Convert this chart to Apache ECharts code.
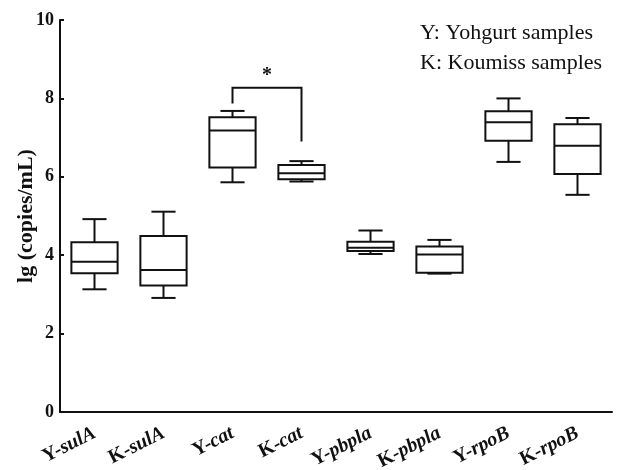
<!DOCTYPE html>
<html>
<head>
<meta charset="utf-8">
<script src="https://cdn.jsdelivr.net/npm/echarts@6/dist/echarts.min.js"></script>
<style>
html, body { margin: 0; padding: 0; background: #fff; }
#chart { width: 617px; height: 470px; }
</style>
</head>
<body>
<div id="chart"></div>
<script>
// groups and genes on the x axis
var groups = ['Y', 'K', 'Y', 'K', 'Y', 'K', 'Y', 'K'];
var genes = ['sulA', 'sulA', 'cat', 'cat', 'pbpla', 'pbpla', 'rpoB', 'rpoB'];
var categories = groups.map(function (g, i) { return g + '-' + genes[i]; });

// box stats: [min, Q1, median, Q3, max]
var lowVals    = [3.13, 2.91, 5.86, 5.88, 4.03, 3.53, 6.38, 5.54];
var q1Vals     = [3.54, 3.23, 6.24, 5.94, 4.11, 3.55, 6.92, 6.07];
var medianVals = [3.83, 3.62, 7.18, 6.09, 4.19, 4.02, 7.39, 6.79];
var q3Vals     = [4.33, 4.49, 7.52, 6.30, 4.34, 4.22, 7.67, 7.34];
var highVals   = [4.92, 5.11, 7.68, 6.40, 4.63, 4.39, 8.00, 7.50];

var yTicks = [0, 2, 4, 6, 8, 10];

// significance bracket between Y-cat and K-cat
var sigPair = [2, 3];
var sigTop = 8.27;
var sigLegs = [7.87, 6.90];
var sigMark = '*';

var noteLines = ['Y: Yohgurt samples', 'K: Koumiss samples'];

var serif = 'Liberation Serif';

var boxData = categories.map(function (c, i) {
    return [i, lowVals[i], q1Vals[i], medianVals[i], q3Vals[i], highVals[i]];
});

function renderBox(params, api) {
    var idx = api.value(0);
    var band = api.size([1, 0])[0];
    var hw = band * 0.335;
    var cw = band * 0.175;
    var x = api.coord([idx, 0])[0];
    var yLow = api.coord([idx, api.value(1)])[1];
    var yQ1 = api.coord([idx, api.value(2)])[1];
    var yMed = api.coord([idx, api.value(3)])[1];
    var yQ3 = api.coord([idx, api.value(4)])[1];
    var yHigh = api.coord([idx, api.value(5)])[1];
    var st = { stroke: '#111', lineWidth: 2, fill: null };
    return {
        type: 'group',
        children: [
            { type: 'rect', shape: { x: x - hw, y: yQ3, width: hw * 2, height: yQ1 - yQ3 }, style: st },
            { type: 'line', shape: { x1: x - hw, y1: yMed, x2: x + hw, y2: yMed }, style: st },
            { type: 'line', shape: { x1: x, y1: yQ3, x2: x, y2: yHigh }, style: st },
            { type: 'line', shape: { x1: x, y1: yQ1, x2: x, y2: yLow }, style: st },
            { type: 'line', shape: { x1: x - cw, y1: yHigh, x2: x + cw, y2: yHigh }, style: st },
            { type: 'line', shape: { x1: x - cw, y1: yLow, x2: x + cw, y2: yLow }, style: st }
        ]
    };
}

function renderSig(params, api) {
    var a = api.coord([sigPair[0], sigLegs[0]]);
    var b = api.coord([sigPair[1], sigLegs[1]]);
    var top = api.coord([sigPair[0], sigTop])[1];
    return {
        type: 'group',
        children: [
            { type: 'polyline', shape: { points: [[a[0], a[1]], [a[0], top], [b[0], top], [b[0], b[1]]] },
              style: { stroke: '#111', lineWidth: 2, fill: null } },
            { type: 'text', x: (a[0] + b[0]) / 2, y: top - 2,
              style: { text: sigMark, font: 'bold 20px ' + serif, fill: '#111', align: 'center', verticalAlign: 'bottom' } }
        ]
    };
}

var option = {
    animation: false,
    backgroundColor: '#fff',
    grid: { left: 60, right: 5, top: 20, bottom: 58, outerBoundsMode: 'none' },
    xAxis: {
        type: 'category',
        data: categories,
        axisLine: { lineStyle: { color: '#111', width: 2 } },
        axisTick: { alignWithLabel: true, inside: true, length: 4, lineStyle: { color: '#111', width: 2 } },
        axisLabel: {
            rotate: 27,
            margin: 20,
            formatter: function (v, i) {
                var p = v.split('-');
                return '{b|' + p[0] + '-}{i|' + p[1] + '}';
            },
            rich: {
                b: { fontFamily: serif, fontWeight: 'bold', fontSize: 20, color: '#111' },
                i: { fontFamily: serif, fontWeight: 'bold', fontStyle: 'italic', fontSize: 20, color: '#111' }
            }
        },
        splitLine: { show: false }
    },
    yAxis: {
        type: 'value',
        min: yTicks[0],
        max: yTicks[yTicks.length - 1],
        interval: 2,
        name: 'lg (copies/mL)',
        nameLocation: 'middle',
        nameGap: 23,
        nameMoveOverlap: false,
        nameTextStyle: { fontFamily: serif, fontWeight: 'bold', fontSize: 22, color: '#111' },
        axisLine: { show: true, lineStyle: { color: '#111', width: 2 } },
        axisTick: { show: true, inside: true, length: 4, lineStyle: { color: '#111', width: 2 } },
        axisLabel: { fontFamily: serif, fontWeight: 'bold', fontSize: 18, color: '#111', margin: 6 },
        splitLine: { show: false }
    },
    graphic: noteLines.map(function (t, i) {
        return {
            type: 'text', left: 420, top: 22 + i * 30,
            style: { text: t, font: '22px ' + serif, fill: '#111' }
        };
    }),
    series: [
        { type: 'custom', renderItem: renderBox, data: boxData, encode: { x: 0, y: [1, 2, 3, 4, 5] } },
        { type: 'custom', renderItem: renderSig, data: [[sigPair[0], sigTop]], encode: { x: 0, y: 1 } }
    ]
};

var myChart = echarts.init(document.getElementById('chart'));
myChart.setOption(option);
</script>
</body>
</html>
